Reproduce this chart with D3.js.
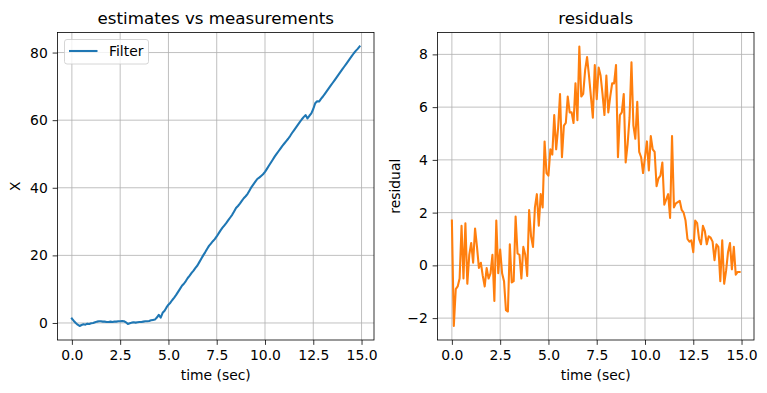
<!DOCTYPE html>
<html>
<head>
<meta charset="utf-8">
<script src="https://cdn.jsdelivr.net/npm/d3@7"></script>
<style>
  body { margin: 0; background: #fff; }
  svg { display: block; }
  text { font-family: "DejaVu Sans", sans-serif; fill: #000; }
</style>
</head>
<body>
<svg id="chart" width="767" height="393"></svg>
<script>
// time samples, 0.0 .. 14.9 sec
const times = d3.range(150).map(i => +(i / 10).toFixed(1));

// filter estimate (left panel)
const filterX = [
  1.3, 0.6, 0.0, -0.5, -0.9, -0.6, -0.4, -0.5, -0.2, -0.3,
  -0.1, 0.0, 0.2, 0.4, 0.5, 0.5, 0.4, 0.4, 0.3, 0.3,
  0.4, 0.3, 0.4, 0.4, 0.5, 0.5, 0.6, 0.5, 0.2, -0.3,
  -0.1, 0.1, 0.2, 0.1, 0.2, 0.3, 0.3, 0.4, 0.5, 0.5,
  0.6, 0.8, 0.9, 1.0, 1.6, 2.4, 1.6, 3.0, 3.6, 4.6,
  5.4, 6.0, 6.8, 7.5, 8.3, 9.2, 10.1, 11.0, 11.6, 12.4,
  13.3, 14.0, 14.8, 15.5, 16.3, 17.0, 18.0, 19.0, 20.0, 20.9,
  21.9, 22.8, 23.5, 24.2, 24.8, 25.6, 26.5, 27.4, 28.2, 28.9,
  29.6, 30.4, 31.2, 32.0, 33.0, 34.0, 34.6, 35.3, 36.1, 36.9,
  37.5, 38.2, 39.2, 40.2, 41.0, 41.8, 42.6, 43.0, 43.5, 44.0,
  44.7, 45.6, 46.5, 47.4, 48.3, 49.2, 50.0, 50.8, 51.6, 52.4,
  53.1, 53.8, 54.5, 55.3, 56.2, 57.0, 57.8, 58.6, 59.4, 60.2,
  60.9, 61.5, 60.5, 61.3, 62.0, 63.3, 65.0, 65.6, 65.5, 66.3,
  67.0, 67.8, 68.6, 69.4, 70.2, 71.0, 71.8, 72.6, 73.4, 74.2,
  75.0, 75.8, 76.6, 77.4, 78.2, 79.0, 79.8, 80.5, 81.1, 81.8
];

// residuals (right panel)
const residuals = [
  1.7, -2.3, -0.9, -0.8, -0.5, 1.5, -0.5, 1.6, -0.7, 0.4,
  0.85, 0.1, 1.4, 0.7, -0.1, 0.1, -0.4, -0.8, -0.1, -0.5,
  -0.3, 0.4, -1.35, 1.7, -0.3, 0.6, -0.3, -0.6, -1.7, -1.75,
  0.8, -0.65, -0.6, 1.85, 0.45, 0.4, -0.5, 0.7, 0.4, -0.4,
  2.1, 1.1, 0.7, 2.2, 2.7, 1.5, 2.7, 2.2, 4.7, 3.5,
  3.4, 4.4, 4.2, 5.7, 4.4, 5.2, 6.5, 4.1, 5.3, 5.4,
  6.4, 5.8, 5.8, 5.4, 6.9, 5.5, 8.3, 6.4, 6.5, 7.4,
  7.9, 7.2, 6.4, 5.6, 7.6, 6.3, 7.5, 7.2, 6.5, 5.7,
  7.2, 5.8, 6.4, 6.9, 6.9, 7.6, 4.1, 5.7, 5.8, 6.5,
  3.9, 4.6, 5.6, 7.7, 5.3, 4.8, 6.2, 4.3, 4.1, 3.5,
  4.1, 4.7, 3.6, 4.9, 4.4, 4.3, 3.0, 3.3, 3.4, 3.9,
  2.3, 2.5, 2.7, 1.8, 4.9, 2.2, 2.35, 2.4, 2.45, 2.1,
  2.0, 1.7, 1.0, 0.9, 0.95, 0.5, 1.7, 1.6, 1.0, 0.8,
  1.5, 1.3, 0.8, 1.1, 1.05, 0.9, 0.2, 0.8, 0.7, -0.6,
  0.95, -0.7, -0.2, 0.5, 0.85, -0.15, 0.7, -0.35, -0.25, -0.25
];

const xTicks = [0, 2.5, 5, 7.5, 10, 12.5, 15];
const leftYTicks = [0, 20, 40, 60, 80];
const rightYTicks = [-2, 0, 2, 4, 6, 8];

const svg = d3.select('#chart');
const plotTop = 32.5, plotBottom = 340;
const tick = 4.86;
const fmtX = d3.format('.1f');
const fmtY = d3.format('d');

// matplotlib style 5% margins
function padded(vals) {
  const [a, b] = d3.extent(vals);
  const m = (b - a) * 0.05;
  return [a - m, b + m];
}

function panel(opts) {
  const { left, right, ys, color, yTicks, title, ylabel, ylabelX } = opts;
  const g = svg.append('g');

  const x = d3.scaleLinear().domain(padded(times)).range([left, right]);
  const y = d3.scaleLinear().domain(padded(ys)).range([plotBottom, plotTop]);

  // grid
  g.append('g').selectAll('line').data(xTicks).enter().append('line')
    .attr('x1', d => x(d)).attr('x2', d => x(d))
    .attr('y1', plotTop).attr('y2', plotBottom)
    .attr('stroke', '#b0b0b0').attr('stroke-width', 0.8);
  g.append('g').selectAll('line').data(yTicks).enter().append('line')
    .attr('x1', left).attr('x2', right)
    .attr('y1', d => y(d)).attr('y2', d => y(d))
    .attr('stroke', '#b0b0b0').attr('stroke-width', 0.8);

  // the series
  const line = d3.line().x((d, i) => x(times[i])).y(d => y(d));
  g.append('path').datum(ys)
    .attr('d', line)
    .attr('fill', 'none')
    .attr('stroke', color)
    .attr('stroke-width', 2.08)
    .attr('stroke-linejoin', 'round')
    .attr('stroke-linecap', 'square');

  // axes
  const xAxis = d3.axisBottom(x).tickValues(xTicks).tickFormat(fmtX)
    .tickSize(tick).tickSizeOuter(0).tickPadding(tick);
  const yAxis = d3.axisLeft(y).tickValues(yTicks).tickFormat(fmtY)
    .tickSize(tick).tickSizeOuter(0).tickPadding(tick);

  const gx = g.append('g').attr('transform', `translate(0,${plotBottom})`).call(xAxis);
  const gy = g.append('g').attr('transform', `translate(${left},0)`).call(yAxis);
  [gx, gy].forEach(a => {
    a.select('.domain').remove();
    a.selectAll('line').attr('stroke', '#000').attr('stroke-width', 0.8);
    a.selectAll('text').style('font-size', '13.9px').attr('fill', '#000')
      .style('font-family', '"DejaVu Sans", sans-serif');
  });
  gx.selectAll('text').attr('dy', '0.76em');

  // frame
  g.append('rect')
    .attr('x', left).attr('y', plotTop)
    .attr('width', right - left).attr('height', plotBottom - plotTop)
    .attr('fill', 'none').attr('stroke', '#000').attr('stroke-width', 0.8);

  // titles
  g.append('text')
    .attr('x', (left + right) / 2).attr('y', 24)
    .attr('text-anchor', 'middle')
    .style('font-size', '16.7px')
    .text(title);

  g.append('text')
    .attr('x', (left + right) / 2).attr('y', 380)
    .attr('text-anchor', 'middle')
    .style('font-size', '13.9px')
    .text('time (sec)');

  g.append('text')
    .attr('transform', `translate(${ylabelX},${(plotTop + plotBottom) / 2}) rotate(-90)`)
    .attr('text-anchor', 'middle')
    .style('font-size', '13.9px')
    .text(ylabel);

  return g;
}

const leftPanel = panel({
  left: 57.5, right: 374, ys: filterX, color: '#1f77b4',
  yTicks: leftYTicks, title: 'estimates vs measurements', ylabel: 'X', ylabelX: 20
});

panel({
  left: 437.5, right: 754, ys: residuals, color: '#ff7f0e',
  yTicks: rightYTicks, title: 'residuals', ylabel: 'residual', ylabelX: 399.5
});

// legend
const lg = leftPanel.append('g');
lg.append('rect')
  .attr('x', 64.5).attr('y', 39.5).attr('width', 84).attr('height', 24.5)
  .attr('rx', 2.5)
  .attr('fill', '#fff').attr('fill-opacity', 0.8)
  .attr('stroke', '#cccccc').attr('stroke-width', 0.8);
lg.append('line')
  .attr('x1', 69).attr('x2', 97.5).attr('y1', 51).attr('y2', 51)
  .attr('stroke', '#1f77b4').attr('stroke-width', 2.08);
lg.append('text')
  .attr('x', 109).attr('y', 56)
  .style('font-size', '13.9px')
  .text('Filter');
</script>
</body>
</html>
